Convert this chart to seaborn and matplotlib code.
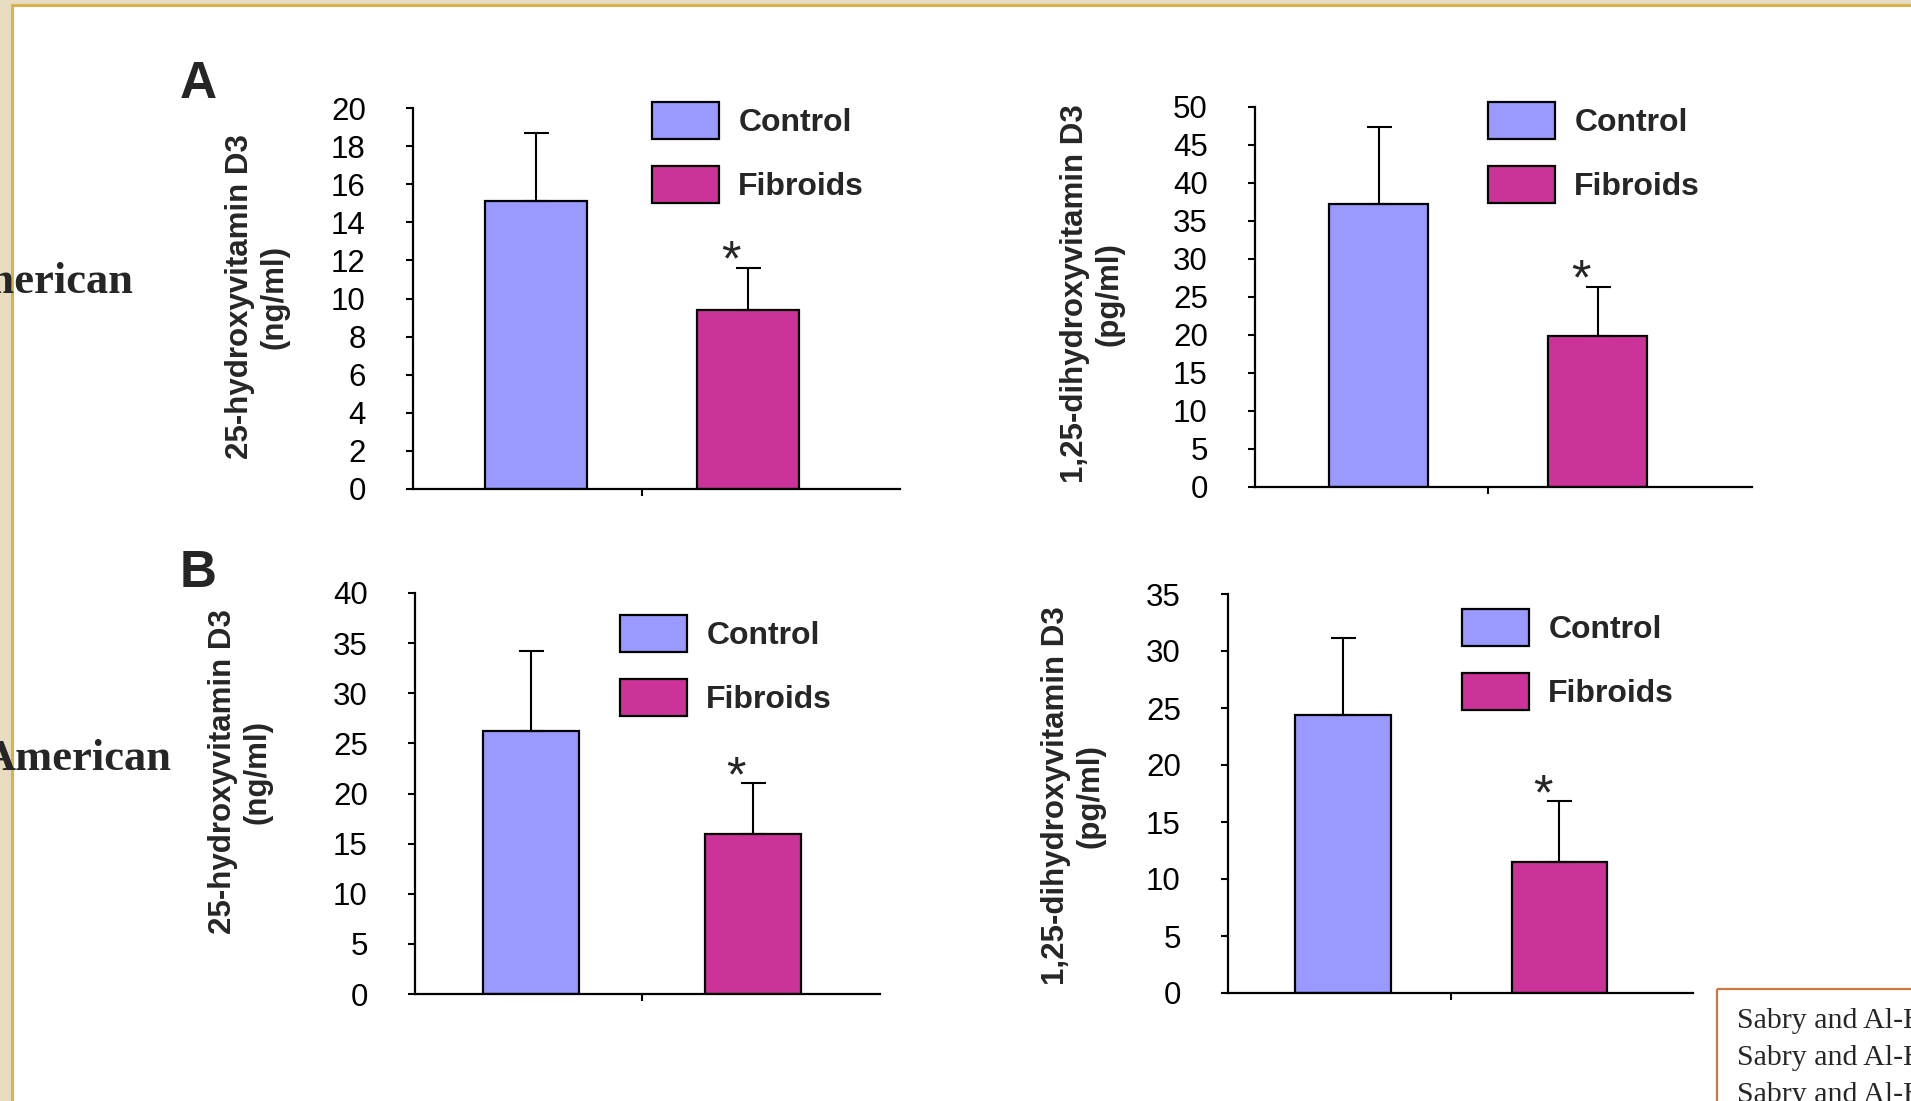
import matplotlib
matplotlib.use("Agg")
import matplotlib.pyplot as plt
from matplotlib.patches import Patch, Rectangle
import seaborn as sns
import pandas as pd

# data (mean and upper SD of each group)
groups = ["Control", "Fibroids"]
colors = ["#9999FF", "#CC3399"]

a_25_mean = [15.1, 9.4]
a_25_err = [3.6, 2.2]
a_125_mean = [37.2, 19.9]
a_125_err = [10.2, 6.4]
b_25_mean = [26.2, 16.0]
b_25_err = [8.0, 5.0]
b_125_mean = [24.4, 11.5]
b_125_err = [6.7, 5.3]

label_25 = "25-hydroxyvitamin D3\n(ng/ml)"
label_125 = "1,25-dihydroxyvitamin D3\n(pg/ml)"
panel_letters = ["A", "B"]
row_labels = ["American", "American"]
cite_lines = ["Sabry and Al-Hendy", "Sabry and Al-Hendy", "Sabry and Al-Hendy"]

W, H = 1911, 1101

sns.set_theme(style="white")
plt.rcParams["font.family"] = ["Liberation Sans", "DejaVu Sans"]

fig = plt.figure(figsize=(W / 100, H / 100), dpi=100)

# slide background: border, row labels, citation box
bg = fig.add_axes([0, 0, 1, 1], zorder=-1)
bg.set_xlim(0, W)
bg.set_ylim(H, 0)
bg.axis("off")
bg.add_patch(Rectangle((0, 0), 11, H, color="#e7dcc0", zorder=1))
bg.add_patch(Rectangle((0, 0), W, 4, color="#e7dcc0", zorder=1))
bg.plot([12, 12], [5, H], color="#d8b34f", lw=2.2, zorder=2)
bg.plot([12, W], [5, 5], color="#d8b34f", lw=2.2, zorder=2)

for txt, (x, y) in zip(row_labels, [(133, 293), (171, 770)]):
    bg.text(x, y, txt, ha="right", va="baseline", family="Liberation Serif",
            fontsize=32, fontweight="bold", zorder=3, clip_on=True)

for txt, y in zip(panel_letters, [98, 587]):
    bg.text(180, y, txt, ha="left", va="baseline", fontsize=37,
            fontweight="bold", zorder=3)

bg.add_patch(Rectangle((1717, 989), 300, 200, fill=False,
                       edgecolor="#cc7840", lw=1.6, zorder=3))
for txt, y in zip(cite_lines, [1028, 1065, 1102]):
    bg.text(1737, y, txt, ha="left", va="baseline", family="Liberation Serif",
            fontsize=21.5, zorder=4, clip_on=True)

panels = [
    dict(px=(413, 108, 900, 489), mean=a_25_mean, err=a_25_err, top=20, step=2,
         ylabel=label_25, lab=(257, 297), xlim=(-0.58, 1.717), bw=0.477,
         leg=(652, 102)),
    dict(px=(1255, 107, 1752, 487), mean=a_125_mean, err=a_125_err, top=50, step=5,
         ylabel=label_125, lab=(1092, 294), xlim=(-0.565, 1.705), bw=0.453,
         leg=(1488, 102)),
    dict(px=(415, 593, 880, 994), mean=b_25_mean, err=b_25_err, top=40, step=5,
         ylabel=label_25, lab=(240, 772), xlim=(-0.523, 1.572), bw=0.43,
         leg=(620, 615)),
    dict(px=(1228, 594, 1693, 993), mean=b_125_mean, err=b_125_err, top=35, step=5,
         ylabel=label_125, lab=(1073, 796), xlim=(-0.531, 1.617), bw=0.44,
         leg=(1462, 609)),
]

for p in panels:
    x0, y0, x1, y1 = p["px"]
    ax = fig.add_axes([x0 / W, 1 - y1 / H, (x1 - x0) / W, (y1 - y0) / H])
    ax.set_facecolor("none")
    df = pd.DataFrame({"group": groups, "value": p["mean"]})
    sns.barplot(data=df, x="group", y="value", hue="group", palette=colors,
                saturation=1, width=p["bw"], edgecolor="black", linewidth=1.6,
                ax=ax, legend=False, zorder=2)
    ax.errorbar([0, 1], p["mean"], yerr=[[0, 0], p["err"]], fmt="none",
                ecolor="black", elinewidth=1.5, capsize=9, capthick=1.5, zorder=3)
    ax.set_ylim(0, p["top"])
    ax.set_yticks(range(0, p["top"] + 1, p["step"]))
    ax.set_xlim(*p["xlim"])
    ax.set_xticks([0.5])
    ax.set_xticklabels([""])
    ax.set_xlabel("")
    ax.set_ylabel("")
    sns.despine(ax=ax)
    for s in ["left", "bottom"]:
        ax.spines[s].set_color("black")
        ax.spines[s].set_linewidth(1.6)
    ax.tick_params(axis="y", direction="out", length=5, width=1.5, pad=29,
                   labelsize=22.5, colors="black", left=True)
    ax.tick_params(axis="x", direction="out", length=5, width=1.5,
                   colors="black", bottom=True)

    lx, ly = p["lab"]
    ax.text((lx - x0) / (x1 - x0), (y1 - ly) / (y1 - y0), p["ylabel"],
            transform=ax.transAxes, rotation=90, ha="center", va="center",
            fontsize=22.5, fontweight="bold", multialignment="center",
            linespacing=1.2)

    ax.annotate("*", xy=(1, p["mean"][1] + p["err"][1]), xytext=(-12, 4),
                textcoords="offset points", ha="center", va="center",
                fontsize=36)

    handles = [Patch(facecolor=c, edgecolor="black", linewidth=1.6) for c in colors]
    lx, ly = p["leg"]
    ax.legend(handles, groups, loc="upper left", bbox_to_anchor=(lx / W, 1 - ly / H),
              bbox_transform=fig.transFigure, frameon=False,
              prop={"size": 23, "weight": "bold"}, handlelength=2.1,
              handleheight=1.4, handletextpad=0.6, labelspacing=0.85,
              borderpad=0, borderaxespad=0)

fig.savefig("out.png", dpi=100)
